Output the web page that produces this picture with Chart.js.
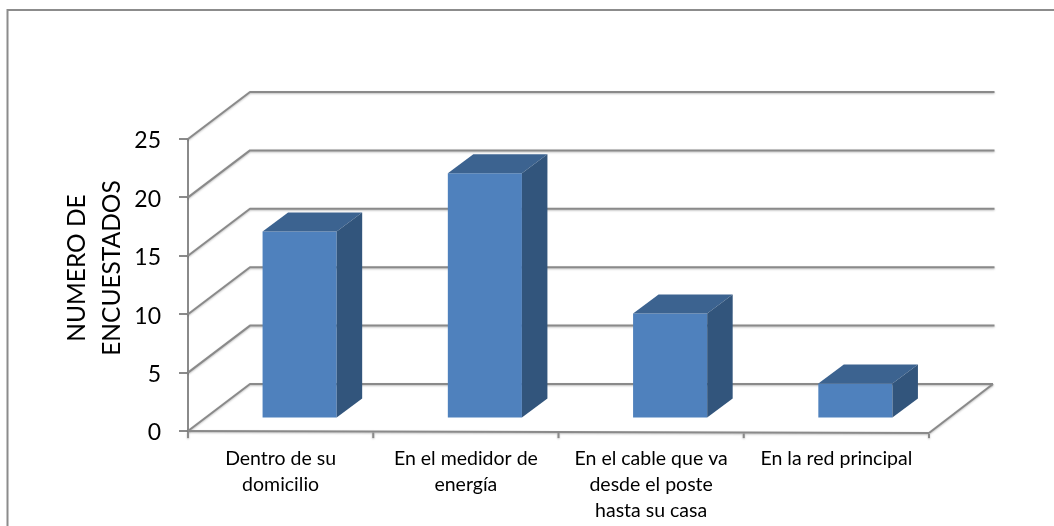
<!DOCTYPE html>
<html>
<head>
<meta charset="utf-8">
<title>Numero de encuestados</title>
<script src="https://cdn.jsdelivr.net/npm/chart.js@4"></script>
<style>
  body { margin: 0; background: #fff; }
  canvas { display: block; }
</style>
</head>
<body>
<canvas id="grafico" width="1054" height="526"></canvas>
<script>
const categorias = [
    ['Dentro de su', 'domicilio'],
    ['En el medidor de', 'energía'],
    ['En el cable que va', 'desde el poste', 'hasta su casa'],
    ['En la red principal']
];
const encuestados = [16, 21, 9, 3];
const tituloEjeY = ['NUMERO DE', 'ENCUESTADOS'];
const maxEje = 25;
const pasoEje = 5;

const gris = '#8a8a8a';
const caraFrente = '#4f81bd';
const caraLado = '#32557c';
const caraArriba = '#3c6390';

// depth of the fake 3D box
const fondoX = 62, fondoY = 47;   // back wall
const barraX = 19, barraY = 12.5; // bars sit a bit inside the floor
const ladoX = 25.5, ladoY = 19;   // bar depth

function linea(ctx, x1, y1, x2, y2) {
    ctx.beginPath();
    ctx.moveTo(x1, y1);
    ctx.lineTo(x2, y2);
    ctx.stroke();
}

function poligono(ctx, color, puntos) {
    ctx.fillStyle = color;
    ctx.beginPath();
    puntos.forEach((p, i) => i ? ctx.lineTo(p[0], p[1]) : ctx.moveTo(p[0], p[1]));
    ctx.closePath();
    ctx.fill();
}

const caja3d = {
    id: 'caja3d',
    beforeDraw(chart) {
        const ctx = chart.ctx;
        ctx.save();
        ctx.fillStyle = '#fff';
        ctx.fillRect(0, 0, chart.width, chart.height);
        // chart frame, only top and left are inside the picture
        ctx.strokeStyle = '#8c8c8c';
        ctx.lineWidth = 2;
        ctx.beginPath();
        ctx.moveTo(7.5, chart.height);
        ctx.lineTo(7.5, 10);
        ctx.lineTo(chart.width, 10);
        ctx.stroke();
        ctx.restore();
    },
    beforeDatasetsDraw(chart) {
        const ctx = chart.ctx;
        const { left, right, bottom } = chart.chartArea;
        const y = chart.scales.y;
        ctx.save();
        ctx.strokeStyle = gris;
        ctx.lineWidth = 2;
        ctx.lineJoin = 'round';
        ctx.shadowColor = 'rgba(0,0,0,0.25)';
        ctx.shadowOffsetY = 1;
        ctx.shadowBlur = 2;
        y.ticks.forEach(t => {
            const py = y.getPixelForValue(t.value);
            ctx.beginPath();
            ctx.moveTo(left, py);
            ctx.lineTo(left + fondoX, py - fondoY);
            ctx.lineTo(right + fondoX + (t.value ? 3.5 : 2), py - fondoY);
            ctx.stroke();
        });
        // floor, slightly tilted like the original
        linea(ctx, right + fondoX + 2, bottom - fondoY, right, bottom + 2);
        linea(ctx, right, bottom + 2, left, bottom);
        const paso = (right - left) / categorias.length;
        for (let i = 0; i <= categorias.length; i++) {
            const px = left + i * paso;
            linea(ctx, px, bottom + 1 + i * 2 / categorias.length, px, bottom + 7);
        }
        ctx.restore();
        // front faces are drawn by the library, just moved into the floor
        ctx.save();
        ctx.translate(barraX, -barraY);
    },
    afterDatasetsDraw(chart) {
        const ctx = chart.ctx;
        chart.getDatasetMeta(0).data.forEach(b => {
            const izq = b.x - b.width / 2, der = b.x + b.width / 2;
            poligono(ctx, caraArriba, [[izq, b.y], [der, b.y], [der + ladoX, b.y - ladoY], [izq + ladoX, b.y - ladoY]]);
            poligono(ctx, caraLado, [[der, b.y], [der + ladoX, b.y - ladoY], [der + ladoX, b.base - ladoY], [der, b.base]]);
        });
        ctx.restore();
    },
    afterDraw(chart) {
        const ctx = chart.ctx;
        ctx.save();
        ctx.fillStyle = '#000';
        ctx.font = '24.5px Lato';
        ctx.textAlign = 'center';
        ctx.textBaseline = 'middle';
        ctx.translate(77, 268);
        ctx.rotate(-Math.PI / 2);
        tituloEjeY.forEach((t, i) => ctx.fillText(t, 0, i * 35));
        ctx.restore();
    }
};

new Chart(document.getElementById('grafico').getContext('2d'), {
    type: 'bar',
    data: {
        labels: categorias,
        datasets: [{
            label: 'Encuestados',
            data: encuestados,
            backgroundColor: caraFrente,
            barPercentage: 0.4,
            categoryPercentage: 1
        }]
    },
    options: {
        responsive: false,
        animation: false,
        devicePixelRatio: 1,
        layout: { padding: { top: 139, right: 125, left: 0, bottom: 0 } },
        plugins: { legend: { display: false }, tooltip: { enabled: false } },
        scales: {
            x: {
                afterFit(scale) { scale.height = 95; },
                grid: { display: false },
                border: { display: false },
                ticks: {
                    maxRotation: 0,
                    autoSkip: false,
                    color: '#000',
                    padding: 7,
                    font: { family: 'Lato', size: 19.5, lineHeight: 26 / 19.5 }
                }
            },
            y: {
                min: 0,
                max: maxEje,
                afterFit(scale) { scale.width = 188; },
                grid: { drawOnChartArea: false, color: gris, lineWidth: 2, tickLength: 9 },
                border: { color: gris, width: 2 },
                ticks: {
                    stepSize: pasoEje,
                    color: '#000',
                    padding: 18,
                    labelOffset: 2,
                    font: { family: 'Lato', size: 23 }
                }
            }
        }
    },
    plugins: [caja3d]
});
</script>
</body>
</html>
